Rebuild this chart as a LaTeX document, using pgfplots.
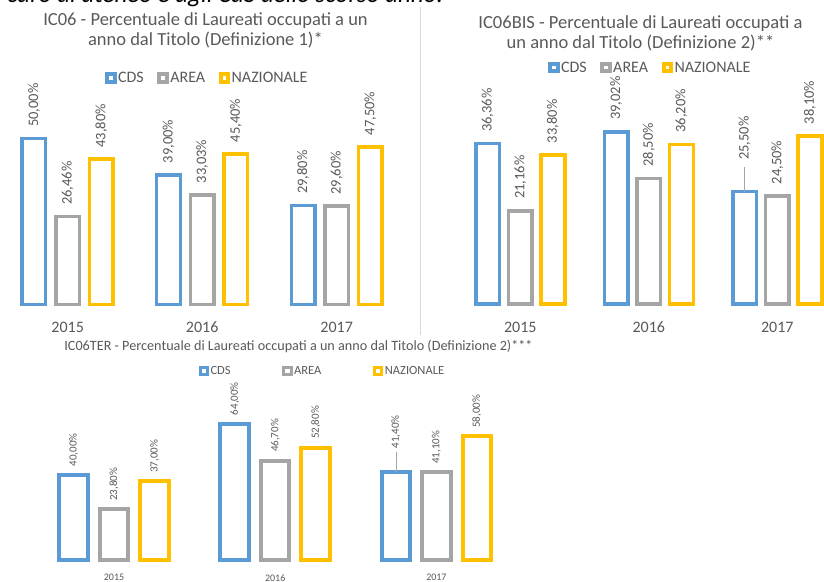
\documentclass[border=0pt]{standalone}
\usepackage{fontspec}
\setmainfont{Carlito}
\usepackage{pgfplots}
\pgfplotsset{compat=1.18}

\definecolor{cds}{HTML}{5B9BD5}
\definecolor{area}{HTML}{A5A5A5}
\definecolor{naz}{HTML}{FFC000}
\definecolor{txt}{HTML}{595959}
\definecolor{divider}{HTML}{D9D9D9}

\pgfplotsset{
  excelbars/.style={
    scale only axis, clip=false, ybar, ymin=0,
    xmin=-0.5, xmax=2.5, xtick={0,1,2}, xticklabels={2015,2016,2017},
    ytick=\empty, axis line style={draw=none}, major tick length=0pt,
    xticklabel style={text=txt, inner sep=0pt, anchor=north},
    legend columns=-1,
    legend style={draw=none, fill=none, text=txt, anchor=center,
      nodes={inner xsep=1.5pt, inner ysep=1pt}},
    nodes near coords={\pgfmathprintnumber[fixed,fixed zerofill,precision=2,use comma,assume math mode=true]{\pgfplotspointmeta}\%},
    every node near coord/.append style={text=txt, rotate=90, anchor=west, inner sep=0pt},
  },
  sq/.style={legend image code/.code={\draw[line width=#1] (0pt,-3.75pt) rectangle (7.5pt,3.75pt);}},
}

\begin{document}
\begin{tikzpicture}
\path[use as bounding box] (0pt,0pt) rectangle (824pt,581pt);

% testo della pagina tagliato in alto
\node[anchor=base west, inner sep=0pt, font=\fontsize{25}{27}\selectfont\itshape] at (7pt,578pt)
  {caro di ateneo e agli CdS dello scorso anno.};

\draw[divider, line width=1pt] (420pt,574pt) -- (420pt,246pt);

% ---------------- IC06 ----------------
\node[align=center, text=txt, font=\fontsize{18.5}{20}\selectfont] at (205.5pt,551pt)
  {IC06 - Percentuale di Laureati occupati a un\\anno dal Titolo (Definizione 1)*};

\begin{axis}[excelbars,
  at={(0.45pt,276.7pt)}, anchor=south west,
  width=403.5pt, height=205.53pt, ymax=62,
  bar width=23.5pt,
  xticklabel style={font=\fontsize{16}{18}\selectfont, yshift=-17.4pt},
  every node near coord/.append style={font=\fontsize{14.5}{16}\selectfont, outer xsep=11.7pt},
  legend style={at={(0.512,1.101)}, font=\fontsize{16}{18}\selectfont,
    /tikz/every even column/.append style={column sep=12pt}},
  sq=4pt,
]
\addplot[draw=cds, fill=white, line width=3.5pt, bar shift=-33.7pt]
  coordinates {(0,50.00) (1,39.00) (2,29.80)};
\addplot[draw=area, fill=white, line width=3.5pt, bar shift=0pt]
  coordinates {(0,26.46) (1,33.03) (2,29.60)};
\addplot[draw=naz, fill=white, line width=3.5pt, bar shift=33.7pt]
  coordinates {(0,43.80) (1,45.40) (2,47.50)};
\legend{CDS,AREA,NAZIONALE}
\end{axis}

% ---------------- IC06BIS ----------------
\node[align=center, text=txt, font=\fontsize{18.5}{20}\selectfont] at (640.5pt,548pt)
  {IC06BIS - Percentuale di Laureati occupati a\\un anno dal Titolo (Definizione 2)**};

\begin{axis}[excelbars,
  at={(456.05pt,276.75pt)}, anchor=south west,
  width=385.5pt, height=211.92pt, ymax=48,
  bar width=23.8pt,
  xticklabel style={font=\fontsize{16}{18}\selectfont, yshift=-17.45pt},
  every node near coord/.append style={font=\fontsize{14.5}{16}\selectfont, outer xsep=12pt},
  legend style={at={(0.503,1.116)}, font=\fontsize{16}{18}\selectfont,
    /tikz/every even column/.append style={column sep=12pt}},
  sq=4pt,
]
\addplot[draw=cds, fill=white, line width=3.5pt, bar shift=-32.65pt]
  coordinates {(0,36.36) (1,39.02)};
\addplot[draw=area, fill=white, line width=3.5pt, bar shift=0pt]
  coordinates {(0,21.16) (1,28.50) (2,24.50)};
\addplot[draw=naz, fill=white, line width=3.5pt, bar shift=32.65pt]
  coordinates {(0,33.80) (1,36.20) (2,38.10)};
\legend{CDS,AREA,NAZIONALE}
\addplot[forget plot, draw=cds, fill=white, line width=3.5pt, bar shift=-32.65pt,
  every node near coord/.append style={outer xsep=31.7pt,
    append after command={(\tikzlastnode.west) edge[draw=area, line width=0.8pt] ++(0pt,25pt)}}]
  coordinates {(2,25.50)};
\end{axis}

% ---------------- IC06TER ----------------
\node[text=txt, font=\fontsize{14.2}{16}\selectfont] at (298.5pt,234.3pt)
  {IC06TER - Percentuale di Laureati occupati a un anno dal Titolo (Definizione 2)***};

\begin{axis}[excelbars,
  at={(33.4pt,21pt)}, anchor=south west,
  width=483.6pt, height=159.75pt, ymax=75,
  bar width=28.5pt,
  xticklabel style={font=\fontsize{10}{12}\selectfont, yshift=-14.3pt},
  every node near coord/.append style={font=\fontsize{11}{13}\selectfont, outer xsep=8.6pt},
  legend style={at={(0.597,1.183)}, font=\fontsize{12.5}{14}\selectfont,
    /tikz/every even column/.append style={column sep=50pt}},
  sq=3pt,
]
\addplot[draw=cds, fill=white, line width=4pt, bar shift=-40.5pt]
  coordinates {(0,40.00) (1,64.00)};
\addplot[draw=area, fill=white, line width=4pt, bar shift=0pt]
  coordinates {(0,23.80) (1,46.70) (2,41.10)};
\addplot[draw=naz, fill=white, line width=4pt, bar shift=40.5pt]
  coordinates {(0,37.00) (1,52.80) (2,58.00)};
\legend{CDS,AREA,NAZIONALE}
\addplot[forget plot, draw=cds, fill=white, line width=4pt, bar shift=-40.5pt,
  every node near coord/.append style={outer xsep=23.5pt,
    append after command={(\tikzlastnode.west) edge[draw=area, line width=0.8pt] ++(0pt,20pt)}}]
  coordinates {(2,41.40)};
\end{axis}
\end{tikzpicture}
\end{document}
